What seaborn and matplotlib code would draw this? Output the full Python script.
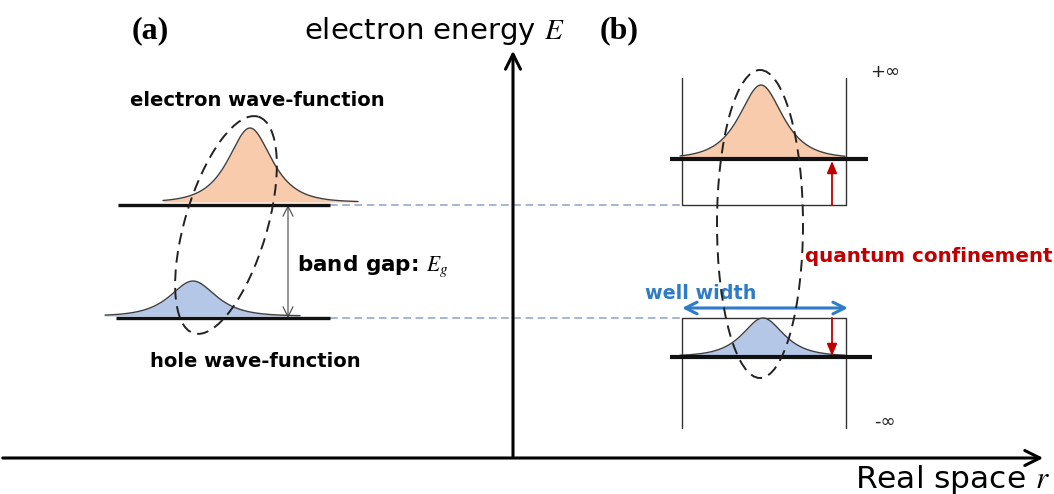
import numpy as np
import pandas as pd
import matplotlib
matplotlib.use("Agg")
import matplotlib.pyplot as plt
import seaborn as sns
from matplotlib.patches import Ellipse

# ---------------- data (pixel-space diagram) ----------------
W, H = 1054, 494
level_names = ["a_electron", "a_hole", "b_electron", "b_hole"]
level_y = [205, 318, 159, 357]
level_x0 = [118, 116, 670, 670]
level_x1 = [330, 330, 868, 872]

wf_center = [250, 193, 761, 763]
wf_base = [202, 316, 158, 356]
wf_height = [74, 35, 73, 38]
wf_width = [19, 20, 19, 18]
wf_lo = [163, 105, 680, 680]
wf_hi = [358, 300, 845, 845]
wf_color = ["#f8cbad", "#b4c7e7", "#f8cbad", "#b4c7e7"]

# connector dashed lines (a -> b)
conn_y = [205, 318]
conn_x0 = 330
conn_x1 = 683

# quantum wells: x left/right, upper well y range, lower well y range
well_x = [682, 846]
upper_well_y = [78, 205]
lower_well_y = [318, 428]

# ellipses: center x, center y, minor, major, angle
ell_cx = [226, 760]
ell_cy = [225, 224]
ell_w = [82, 86]
ell_h = [226, 308]
ell_ang = [16.6, 0.0]

sns.set_theme(style="white")
plt.rcParams["font.family"] = ["DejaVu Sans"]
plt.rcParams["text.color"] = "black"
plt.rcParams["mathtext.fontset"] = "stix"

fig = plt.figure(figsize=(W / 100, H / 100), dpi=100)
ax = fig.add_axes([0, 0, 1, 1])
ax.set_xlim(0, W)
ax.set_ylim(H, 0)
ax.axis("off")

# wave-functions
rows = []
for i, name in enumerate(level_names):
    x = np.linspace(wf_lo[i], wf_hi[i], 300)
    y = wf_base[i] - wf_height[i] / np.cosh((x - wf_center[i]) / wf_width[i])
    ax.fill_between(x, y, wf_base[i], color=wf_color[i], lw=0, zorder=2)
    rows.append(pd.DataFrame({"x": x, "y": y, "wf": name}))
df = pd.concat(rows)
sns.lineplot(data=df, x="x", y="y", units="wf", estimator=None, color="#404040",
             lw=1.0, sort=False, ax=ax, zorder=3, legend=False)

# energy levels
for i in range(4):
    ax.plot([level_x0[i], level_x1[i]], [level_y[i], level_y[i]], color="#111111",
            lw=2.4 if i < 2 else 3.0, solid_capstyle="butt", zorder=4)

# connectors
for y in conn_y:
    ax.plot([conn_x0, conn_x1], [y, y], color="#8ea2c8", lw=1.1, ls=(0, (5, 3)), zorder=1)

# wells
wc = "#333333"
ax.plot([well_x[0], well_x[0], well_x[1], well_x[1]],
        [upper_well_y[0], upper_well_y[1], upper_well_y[1], upper_well_y[0]], color=wc, lw=1.0, zorder=1)
ax.plot([well_x[0], well_x[0], well_x[1], well_x[1]],
        [lower_well_y[1], lower_well_y[0], lower_well_y[0], lower_well_y[1]], color=wc, lw=1.0, zorder=1)

# dashed ellipses
for i in range(2):
    e = Ellipse((ell_cx[i], ell_cy[i]), ell_w[i], ell_h[i], angle=ell_ang[i], fill=False,
                edgecolor="#222222", lw=1.4, ls=(0, (6, 3.5)), zorder=5)
    ax.add_patch(e)

# coordinate axes
ax.annotate("", xy=(1046, 458), xytext=(0, 458),
            arrowprops=dict(arrowstyle="->,head_length=0.9,head_width=0.45", lw=2.2, color="black"))
ax.annotate("", xy=(513, 48), xytext=(513, 459),
            arrowprops=dict(arrowstyle="->,head_length=0.9,head_width=0.45", lw=2.2, color="black"))

# band gap arrow
ax.annotate("", xy=(288, 318), xytext=(288, 205),
            arrowprops=dict(arrowstyle="<->,head_length=0.6,head_width=0.3", lw=0.8, color="#444444",
                            shrinkA=0, shrinkB=0))

# red confinement arrows
ax.annotate("", xy=(832, 161), xytext=(832, 205),
            arrowprops=dict(arrowstyle="-|>,head_length=0.6,head_width=0.25", lw=1.3, color="#c00000",
                            shrinkA=0, shrinkB=0))
ax.annotate("", xy=(832, 356), xytext=(832, 318),
            arrowprops=dict(arrowstyle="-|>,head_length=0.6,head_width=0.25", lw=1.3, color="#c00000",
                            shrinkA=0, shrinkB=0))

# well width arrow
ax.annotate("", xy=(848, 308), xytext=(682, 308),
            arrowprops=dict(arrowstyle="<->,head_length=0.7,head_width=0.35", lw=2.2, color="#2e7cc8",
                            shrinkA=0, shrinkB=0))

# texts
ax.text(150, 31, "(a)", fontsize=23, fontweight="bold", family="Liberation Serif", ha="center", va="center")
ax.text(619, 31, "(b)", fontsize=23, fontweight="bold", family="Liberation Serif", ha="center", va="center")
ax.text(304, 31, "electron energy $E$", fontsize=21, ha="left", va="center")
ax.text(1050, 479, "Real space $r$", fontsize=22.5, ha="right", va="center")
ax.text(130, 100, "electron wave-function", fontsize=14, fontweight="bold", ha="left", va="center")
ax.text(150, 361, "hole wave-function", fontsize=14, fontweight="bold", ha="left", va="center")
ax.text(297, 266, "band gap: $E_g$", fontsize=15.5, fontweight="bold", ha="left", va="center")
ax.text(805, 256, "quantum confinement", fontsize=14.3, fontweight="bold", color="#c00000", ha="left", va="center")
ax.text(645, 293, "well width", fontsize=13.8, fontweight="bold", color="#2e7cc8", ha="left", va="center")
ax.text(870, 72, "+\u221e", fontsize=13, ha="left", va="center", color="#222222")
ax.text(874, 422, "-\u221e", fontsize=13, ha="left", va="center", color="#222222")

fig.savefig("out.png", dpi=100)
